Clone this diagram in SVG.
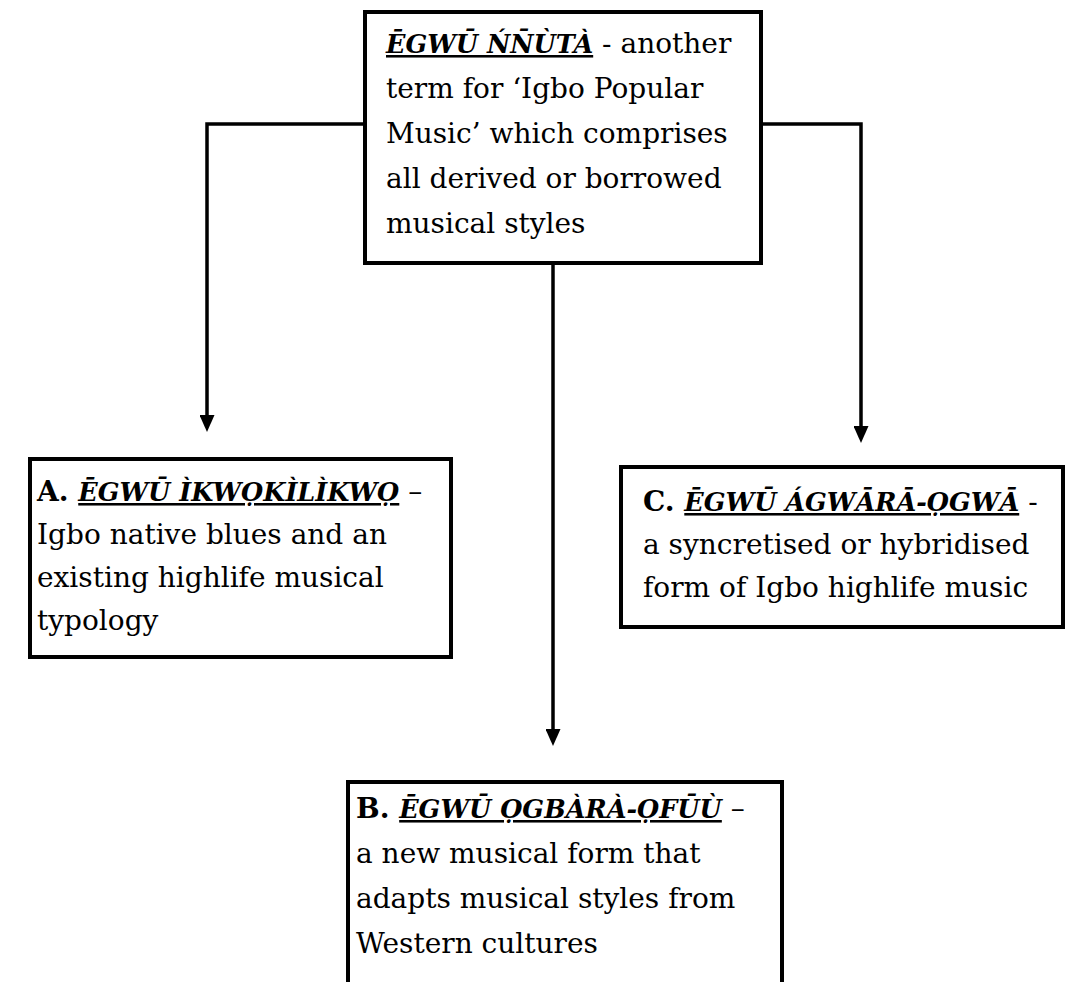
<svg xmlns="http://www.w3.org/2000/svg" width="1066" height="982" viewBox="0 0 1066 982">
<defs>
<style>
.box{fill:#fff;stroke:#000;stroke-width:4}
.conn{fill:none;stroke:#000;stroke-width:3.5}
text{font-family:"DejaVu Serif","Liberation Serif",serif;font-size:28px;fill:#000}
.b{font-weight:bold}
.bi{font-weight:bold;font-style:italic;text-decoration:underline;font-size:25.5px}
</style>
<marker id="arr" markerUnits="userSpaceOnUse" viewBox="0 0 17 15" markerWidth="17" markerHeight="15" refX="7" refY="7.5" orient="auto">
<path d="M0,0 L17,7.5 L0,15 z" fill="#000"/>
</marker>
</defs>
<rect width="1066" height="982" fill="#fff"/>
<g id="connectors">
<path class="conn" d="M365,124 H207 V422" marker-end="url(#arr)"/>
<path class="conn" d="M761,124 H861 V433" marker-end="url(#arr)"/>
<path class="conn" d="M553,263 V736" marker-end="url(#arr)"/>
</g>
<g id="node-top">
<rect class="box" x="365" y="12" width="396" height="251"/>
<text x="386" y="53"><tspan class="bi">ĒGWŪ ŃN̄ÙTÀ</tspan> - another</text>
<text x="386" y="98">term for ‘Igbo Popular</text>
<text x="386" y="143">Music’ which comprises</text>
<text x="386" y="188">all derived or borrowed</text>
<text x="386" y="233">musical styles</text>
</g>
<g id="node-a">
<rect class="box" x="30" y="459" width="421" height="198"/>
<text x="37" y="501"><tspan class="b">A. </tspan><tspan class="bi">ĒGWŪ ÌKWỌKÌLÌKWỌ</tspan> –</text>
<text x="37" y="544">Igbo native blues and an</text>
<text x="37" y="587">existing highlife musical</text>
<text x="37" y="630">typology</text>
</g>
<g id="node-c">
<rect class="box" x="621" y="467" width="442" height="160"/>
<text x="643" y="511"><tspan class="b">C. </tspan><tspan class="bi">ĒGWŪ ÁGWĀRĀ-ỌGWĀ</tspan> -</text>
<text x="643" y="554">a syncretised or hybridised</text>
<text x="643" y="597">form of Igbo highlife music</text>
</g>
<g id="node-b">
<rect class="box" x="348" y="782" width="434" height="240"/>
<text x="356" y="818"><tspan class="b">B. </tspan><tspan class="bi">ĒGWŪ ỌGBÀRÀ-ỌFŪÙ</tspan> –</text>
<text x="356" y="863">a new musical form that</text>
<text x="356" y="908">adapts musical styles from</text>
<text x="356" y="953">Western cultures</text>
</g>
</svg>
